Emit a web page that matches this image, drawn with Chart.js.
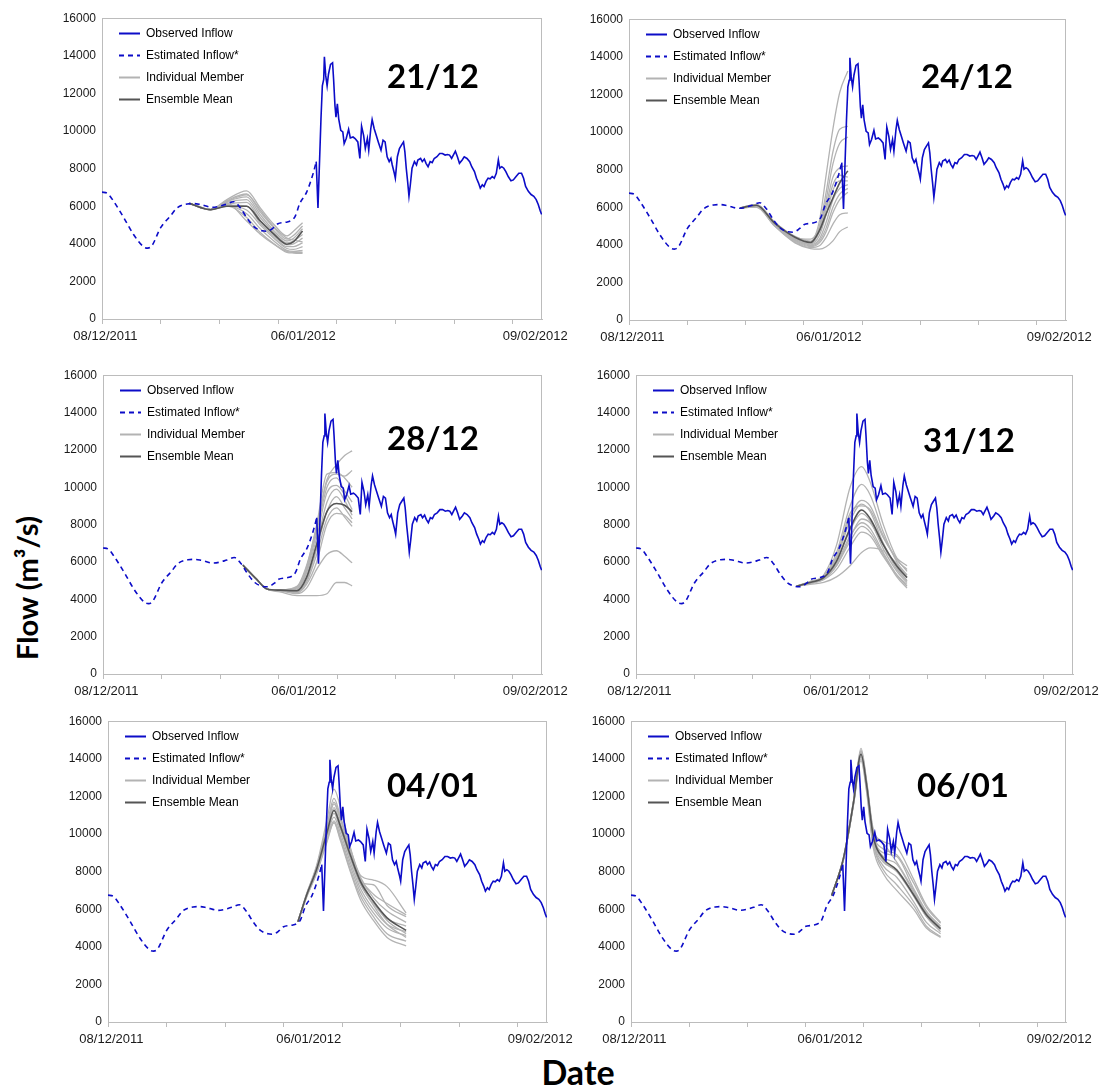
<!DOCTYPE html>
<html><head><meta charset="utf-8">
<script src="https://cdn.jsdelivr.net/npm/chart.js@4.4.0/dist/chart.umd.min.js"></script>
<style>
html,body{margin:0;padding:0;background:#fff;}
body{width:1106px;height:1090px;position:relative;overflow:hidden;font-family:'Liberation Sans',Arial,sans-serif;}
.panel{position:absolute;}
.tag{position:absolute;font-family:Lato,'Open Sans',sans-serif;font-weight:700;font-size:33px;line-height:1;color:#000;transform:translate(-50%,-50%);white-space:nowrap;}
#ytitle{position:absolute;left:26px;top:588px;transform:translate(-50%,-50%) rotate(-90deg);font-family:Lato,'Open Sans',sans-serif;font-weight:700;font-size:29px;white-space:nowrap;line-height:1;color:#000;}
#xtitle{position:absolute;left:578px;top:1072px;transform:translate(-50%,-50%);font-family:Lato,'Open Sans',sans-serif;font-weight:700;font-size:34px;line-height:1;color:#000;}
</style></head><body>
<div id="ytitle">Flow (m³/s)</div>
<div id="xtitle">Date</div>
<script>
// ---------------- DATA ----------------
// x values are days since 08/12/2011
const xLabelDays = [0.5, 29.5, 63.5];
const xLabelText = ['08/12/2011', '06/01/2012', '09/02/2012'];
const xTickMarks = [0, 8.6, 17.2, 25.8, 34.4, 43.0, 51.6, 60.2];
const flowTicksMax = 16000, flowTickStep = 2000;
const panelDates = ['21/12', '24/12', '28/12', '31/12', '04/01', '06/01'];
const legendNames = ['Observed Inflow', 'Estimated Inflow*', 'Individual Member', 'Ensemble Mean'];

const estimated = [[0,6750],[0.8,6680],[1.7,6260],[3.2,5385],[4.6,4510],[6.1,3840],[6.7,3770],[7.3,3895],[8.6,4860],[10,5470],[11,5910],[12.5,6120],[13.4,6140],[14.4,6090],[16.2,5940],[18.2,6100],[19.3,6240],[20.3,5900],[21.3,5340],[22.3,4900],[23.5,4690],[24.2,4670],[25.2,4870],[25.8,5070],[27.0,5150],[27.8,5250],[28.3,5450],[29.0,6150],[30.0,6750],[31.0,7800],[31.4,8370]];

const observed = [[31.4,8370],[31.66,5910],[32.1,10650],[32.3,12400],[32.5,12750],[32.6,13950],[32.8,12930],[33.0,12400],[33.2,13020],[33.5,13540],[33.8,13630],[33.95,12750],[34.15,11350],[34.3,10740],[34.5,11440],[34.7,10650],[35.0,10040],[35.3,9950],[35.5,9330],[35.8,9600],[36.15,10090],[36.4,9630],[36.8,9680],[37.1,9600],[37.5,9420],[37.8,8540],[38.05,10260],[38.35,9770],[38.6,9070],[38.9,9600],[39.1,8980],[39.4,10120],[39.6,10610],[39.9,10120],[40.2,9770],[40.5,9420],[40.9,8980],[41.2,9510],[41.5,9420],[41.8,8630],[42.1,8370],[42.35,8540],[42.55,8190],[42.85,7750],[43.0,7490],[43.3,8630],[43.6,9070],[43.9,9250],[44.2,9420],[44.4,8890],[44.6,8020],[44.8,7320],[45.0,6530],[45.2,7140],[45.45,8020],[45.8,8370],[46.1,8190],[46.3,8460],[46.7,8540],[46.95,8370],[47.25,8510],[47.5,8280],[47.8,8100],[48.1,8370],[48.4,8320],[48.7,8540],[49.1,8630],[49.5,8800],[49.9,8800],[50.3,8720],[50.65,8750],[50.95,8720],[51.25,8540],[51.5,8720],[51.8,8930],[52.1,8630],[52.4,8280],[52.8,8460],[53.1,8630],[53.5,8540],[53.9,8370],[54.2,8100],[54.6,7840],[54.9,7490],[55.2,7230],[55.45,6960],[55.75,7140],[56.0,7050],[56.3,7320],[56.6,7490],[56.9,7460],[57.2,7580],[57.5,7490],[57.8,7750],[58.1,8460],[58.3,8020],[58.6,8100],[58.9,8020],[59.2,7840],[59.55,7580],[59.95,7350],[60.3,7400],[60.7,7580],[61.1,7750],[61.5,7750],[61.8,7490],[62.1,7050],[62.5,6790],[62.9,6620],[63.3,6530],[63.65,6350],[63.95,6090],[64.25,5740],[64.45,5560]];

// forecast issued 21/12
const fcDays2112 = [12.8, 15.9, 18.3, 21.2, 23.2, 25.2, 27.1, 28.1, 29.4];
const mean2112 = [6150, 5820, 6000, 6000, 5210, 4510, 3980, 4120, 4680];
const members2112 = [
  [6150,5820,6350,6820,5910,5030,4420,4680,5120],
  [6150,5820,6300,6650,5700,4850,4250,4450,4950],
  [6150,5820,6250,6500,5550,4700,4150,4300,4800],
  [6150,5820,6200,6350,5400,4600,4050,4150,4500],
  [6150,5820,6100,6200,5250,4500,3950,4000,4300],
  [6150,5820,6050,6000,5100,4400,3850,3850,4050],
  [6150,5820,6000,5800,5000,4300,3750,3700,3850],
  [6150,5820,6000,5600,4800,4150,3650,3600,3650],
  [6150,5820,6000,5400,4600,4000,3550,3510,3490],
  [6150,5820,6150,5210,4510,3980,3600,3550,3550],
  [6150,5820,6250,6600,5800,4900,4300,4200,4100]
];

// forecast issued 24/12
const fcDays2412 = [16.4, 18.8, 21.5, 24.5, 26.8, 28.1, 29.1, 30.1, 31.1, 32.3];
const mean2412 = [5960, 6100, 5150, 4400, 4120, 4750, 5650, 6490, 7300, 7930];
const members2412 = [
  [5960,6150,5200,4450,4200,5260,7720,10170,12100,13250],
  [5960,6150,5200,4400,4150,5000,6800,8950,10150,10300],
  [5960,6100,5150,4350,4100,4800,6400,8300,9400,9740],
  [5960,6100,5150,4400,4300,4900,6100,7600,8100,8200],
  [5960,6100,5100,4300,4050,4500,5600,6900,7400,7400],
  [5960,6050,5100,4300,4000,4300,5200,6400,7000,7200],
  [5960,6050,5050,4250,3950,4200,4900,6000,6700,7000],
  [5960,6050,5050,4200,3900,4100,4700,5700,6400,6800],
  [5960,6100,5100,4350,4150,4700,5900,7200,7700,7600],
  [5960,6000,5000,4150,3850,3950,4400,5100,5600,5700],
  [5960,6000,5000,4100,3800,3770,3900,4210,4700,4950]
];

// forecast issued 28/12
const fcDays2812 = [20.55, 22.5, 24.1, 26, 28.5, 29.9, 31.4, 32.9, 34.3, 35.5, 36.6];
const mean2812 = [5830, 5100, 4550, 4490, 4460, 5160, 6930, 8690, 9130, 9040, 8690];
const members2812 = [
  [5830,5100,4550,4500,4700,5800,7900,10400,11200,11700,11950],
  [5830,5100,4550,4500,4650,5700,8000,10700,10800,10500,10000],
  [5830,5100,4550,4500,4600,5600,7800,10300,10700,10600,10900],
  [5830,5100,4550,4480,4550,5500,7600,10000,10500,9800,9200],
  [5830,5100,4550,4480,4500,5400,7300,9700,10100,9600,8800],
  [5830,5100,4550,4470,4450,5200,7000,9200,9900,9300,8500],
  [5830,5100,4550,4470,4400,5000,6700,8700,9500,8900,8300],
  [5830,5100,4550,4460,4400,4900,6400,8300,8900,8400,7900],
  [5830,5100,4550,4460,4350,4800,6000,8000,8600,8500,8100],
  [5830,5100,4550,4450,4300,4600,5600,6400,6600,6300,5950],
  [5830,5100,4550,4400,4200,4200,4200,4300,4900,4900,4720]
];

// forecast issued 31/12
const fcDays3112 = [23.7, 25.7, 27.7, 29.6, 31.6, 33.3, 34.55, 36.5, 38.5, 40.0];
const mean3112 = [4700, 4900, 5160, 6040, 7800, 8780, 8330, 6930, 5780, 5160];
const members3112 = [
  [4700,4950,5300,6900,10000,11100,10300,8000,6200,5500],
  [4700,4950,5250,6500,9000,10150,9600,7600,6000,5300],
  [4700,4900,5200,6300,8400,9300,9000,7400,6100,5600],
  [4700,4900,5200,6200,8200,9100,8700,7000,5700,5000],
  [4700,4900,5150,6000,7700,8600,8200,6700,5500,4900],
  [4700,4900,5100,5900,7400,8100,7800,6500,5300,4700],
  [4700,4850,5100,5800,7100,7900,7600,6400,5200,4600],
  [4700,4850,5050,5600,6800,7600,7400,6300,5300,4800],
  [4700,4900,5200,6300,8600,9000,8800,7300,6200,5800],
  [4700,4800,4900,5200,5800,6500,6750,6600,5900,5200],
  [4700,4850,5100,5800,7300,8300,8100,6900,5600,5000]
];

// forecast issued 04/01
const fcDays0401 = [27.9, 29.2, 30.7, 32.2, 33.2, 34.1, 35.6, 37.1, 39.0, 41.0, 43.8];
const mean0401 = [5330, 6770, 8180, 10110, 11250, 10460, 8880, 7470, 6420, 5540, 4870];
const members0401 = [
  [5330,6850,8400,10800,12390,11500,9300,7600,6400,5400,4700],
  [5330,6800,8300,10500,11900,11000,9100,7400,6200,5200,4500],
  [5330,6800,8250,10300,11600,10800,9200,7800,7550,7200,5800],
  [5330,6750,8200,10200,11400,10600,9000,7600,6800,6300,5700],
  [5330,6750,8150,10000,11100,10300,8700,7300,6300,5500,5100],
  [5330,6700,8100,9900,10900,10100,8500,7100,6000,5200,4800],
  [5330,6700,8050,9800,10700,9900,8300,6900,5800,5000,4600],
  [5330,6700,8000,9700,10600,9800,8100,6700,5600,4700,4300],
  [5330,6650,7950,9600,10600,9700,8000,6500,5400,4500,4050],
  [5330,6750,8200,10150,11300,10500,9000,7700,6600,5900,5300],
  [5330,6800,8300,10400,11700,10900,9100,7400,7300,6200,5600]
];

// forecast issued 06/01
const fcDays0601 = [29.75, 31.5, 33.0, 34.1, 34.95, 35.9, 37.4, 39.4, 41.9, 43.8, 45.9];
const mean0601 = [6730, 8700, 11690, 14240, 12570, 9930, 8700, 8090, 6770, 5710, 4960];
const members0601 = [
  [6730,8750,11800,14550,12800,10300,9600,9300,7600,6200,5300],
  [6730,8700,11750,14450,12700,10100,9200,8900,7400,6100,5250],
  [6730,8700,11700,14400,12650,10000,9000,8800,7100,5900,5100],
  [6730,8700,11700,14300,12600,9900,8800,8400,6900,5800,5000],
  [6730,8650,11650,14200,12500,9800,8600,8000,6700,5600,4900],
  [6730,8650,11600,14100,12400,9600,8300,7700,6400,5300,4700],
  [6730,8650,11600,14000,12300,9500,8100,7300,6200,5100,4550],
  [6730,8600,11550,13900,12200,9300,7900,7000,6000,5000,4500],
  [6730,8700,11750,14400,12700,10200,9500,8500,7000,5800,5000],
  [6730,8650,11650,14200,12500,9700,8500,8100,6800,5600,4800]
];

// ---------------- LAYOUT ----------------
const BLUE = '#0c0cc8';
const MEMBER = '#b3b3b3';
const MEAN = '#555555';
const AXIS = '#bcbcbc';
const panels = [
  {date: panelDates[0], days: fcDays2112, members: members2112, mean: mean2112, box: [102, 15, 542, 319], tag: [433, 75]},
  {date: panelDates[1], days: fcDays2412, members: members2412, mean: mean2412, box: [629, 16, 1066, 320], tag: [967, 75]},
  {date: panelDates[2], days: fcDays2812, members: members2812, mean: mean2812, box: [103, 372, 542, 674], tag: [433, 437]},
  {date: panelDates[3], days: fcDays3112, members: members3112, mean: mean3112, box: [636, 372, 1073, 674], tag: [969, 439]},
  {date: panelDates[4], days: fcDays0401, members: members0401, mean: mean0401, box: [108, 718, 547, 1022], tag: [433, 784]},
  {date: panelDates[5], days: fcDays0601, members: members0601, mean: mean0601, box: [631, 718, 1066, 1022], tag: [963, 784]}
];
const Y_W = 50, X_H = 40, PAD_T = 10, PAD_R = 40;

const isLabelDay = v => xLabelDays.some(d => Math.abs(d - v) < 1e-6);

const framePlugin = {
  id: 'frame',
  beforeDatasetsDraw(chart) {
    const a = chart.chartArea, c = chart.ctx;
    c.save();
    c.strokeStyle = AXIS; c.lineWidth = 1;
    c.strokeRect(Math.round(a.left) + 0.5, Math.round(a.top) + 0.5, Math.round(a.right - a.left) - 1, Math.round(a.bottom - a.top));
    c.restore();
  }
};
const legendShift = {
  id: 'legendShift',
  afterLayout(chart) { if (chart.legend) { chart.legend.left += 7; chart.legend.top += 12.5; } }
};

panels.forEach(p => {
  const [L, T, R, B] = p.box;
  const div = document.createElement('div');
  div.className = 'panel';
  div.style.left = (L - Y_W) + 'px';
  div.style.top = (T - PAD_T) + 'px';
  div.style.width = (R - L + Y_W + PAD_R) + 'px';
  div.style.height = (B - T + PAD_T + X_H) + 'px';
  const cv = document.createElement('canvas');
  div.appendChild(cv);
  document.body.appendChild(div);

  const tag = document.createElement('div');
  tag.className = 'tag';
  tag.textContent = p.date;
  tag.style.left = p.tag[0] + 'px';
  tag.style.top = p.tag[1] + 'px';
  document.body.appendChild(tag);

  const pts = (days, vals) => days.map((d, i) => ({x: d, y: vals[i]}));
  const datasets = [
    {label: legendNames[0], data: observed.map(([x, y]) => ({x, y})), borderColor: BLUE, backgroundColor: BLUE,
     borderWidth: 1.6, pointRadius: 0, tension: 0, order: 0},
    {label: legendNames[1], data: estimated.map(([x, y]) => ({x, y})), borderColor: BLUE, backgroundColor: BLUE,
     borderWidth: 1.6, borderDash: [5, 4], pointRadius: 0, cubicInterpolationMode: 'monotone', order: 1}
  ];
  p.members.forEach(m => datasets.push({label: legendNames[2], data: pts(p.days, m), borderColor: MEMBER, backgroundColor: MEMBER,
     borderWidth: 1.3, pointRadius: 0, cubicInterpolationMode: 'monotone', order: 3}));
  datasets.push({label: legendNames[3], data: pts(p.days, p.mean), borderColor: MEAN, backgroundColor: MEAN,
     borderWidth: 1.6, pointRadius: 0, cubicInterpolationMode: 'monotone', order: 2});

  new Chart(cv, {
    type: 'line',
    data: {datasets},
    options: {
      animation: false, responsive: true, maintainAspectRatio: false,
      layout: {padding: {top: PAD_T, right: PAD_R, left: 0, bottom: 0}},
      plugins: {
        tooltip: {enabled: false},
        legend: {
          position: 'chartArea', align: 'start',
          labels: {
            usePointStyle: true, pointStyle: 'line', pointStyleWidth: 21, padding: 10,
            font: {family: "'Liberation Sans', Arial, sans-serif", size: 12}, color: '#333',
            generateLabels: (chart) => {
              const ds = chart.data.datasets;
              return [0, 1, 2, ds.length - 1].map(i => ({
                text: ds[i].label, datasetIndex: i, hidden: false,
                strokeStyle: ds[i].borderColor, fillStyle: ds[i].borderColor,
                lineWidth: 2, lineDash: ds[i].borderDash || [], pointStyle: 'line'
              }));
            }
          }
        }
      },
      scales: {
        x: {
          type: 'linear', min: 0, max: 64.5,
          afterBuildTicks: s => { s.ticks = [...xTickMarks, ...xLabelDays].sort((a, b) => a - b).map(v => ({value: v})); },
          afterFit: s => { s.height = X_H; },
          ticks: {
            autoSkip: false, maxRotation: 0, minRotation: 0, padding: 5, color: '#1a1a1a',
            font: {family: "'Liberation Sans', Arial, sans-serif", size: 13},
            callback: (v) => { const i = xLabelDays.findIndex(d => Math.abs(d - v) < 1e-6); return i >= 0 ? xLabelText[i] : ''; }
          },
          grid: {
            drawOnChartArea: false, drawTicks: true, tickLength: 5,
            color: AXIS,
            tickColor: ctx => (ctx.tick && isLabelDay(ctx.tick.value)) ? 'rgba(0,0,0,0)' : AXIS
          },
          border: {color: AXIS, width: 1}
        },
        y: {
          min: 0, max: flowTicksMax,
          afterFit: s => { s.width = Y_W; },
          ticks: {stepSize: flowTickStep, padding: 6, color: '#1a1a1a',
                  font: {family: "'Liberation Sans', Arial, sans-serif", size: 12},
                  callback: v => String(v)},
          grid: {display: false, drawTicks: false},
          border: {color: AXIS, width: 1}
        }
      }
    },
    plugins: [framePlugin, legendShift]
  });
});
</script>
</body></html>
